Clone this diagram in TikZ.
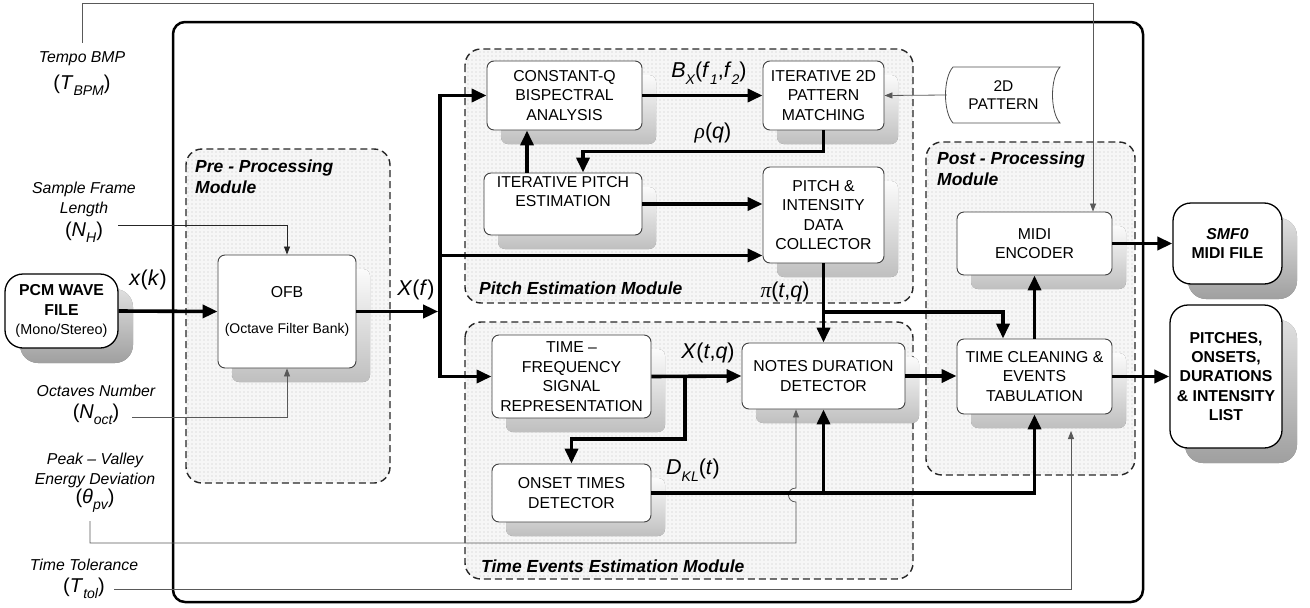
\documentclass[tikz,border=0pt]{standalone}
\usepackage{fontspec}
\setmainfont{Liberation Sans}
\newfontfamily\grk{Liberation Serif}
\usetikzlibrary{arrows.meta,calc,shadows,patterns}
\newcommand\sbs[1]{\raisebox{-0.3em}{\fontsize{14}{14}\selectfont\itshape #1}}
\pgfdeclarepatternformonly{mydots}{\pgfqpoint{-1pt}{-1pt}}{\pgfqpoint{1pt}{1pt}}{\pgfqpoint{4pt}{4pt}}{\pgfpathcircle{\pgfqpoint{0pt}{0pt}}{0.6pt}\pgfusepath{fill}}
\begin{document}
\begin{tikzpicture}[x=1pt,y=-1pt,
  box/.style={draw=black!75, line width=0.9pt, fill=white, rounded corners=7pt, align=center, inner sep=0pt,
    font=\fontsize{15.8}{19.5}\selectfont,
    drop shadow={shadow xshift=14pt, shadow yshift=-14pt, opacity=1, top color=gray!3, bottom color=gray!50, draw=none}},
  filebox/.style={draw=black, line width=1.3pt, fill=white, rounded corners=18pt, align=center, inner sep=0pt,
    font=\fontsize{15.8}{19.3}\selectfont\bfseries,
    drop shadow={shadow xshift=15pt, shadow yshift=-15pt, opacity=1, top color=gray!25, bottom color=gray!75, draw=none}},
  module/.style={draw=black!85, dash pattern=on 7pt off 4pt, line width=1.4pt, rounded corners=16pt,
    preaction={fill=gray!7}, pattern=mydots, pattern color=gray!45},
  modtitle/.style={font=\fontsize{17.5}{21}\selectfont\bfseries\itshape, align=left, inner sep=0pt, anchor=north west},
  lbl/.style={font=\fontsize{15.8}{19.5}\selectfont\itshape, align=center, inner sep=0pt},
  sym/.style={font=\fontsize{20}{22}\selectfont, inner sep=0pt},
  eq/.style={font=\fontsize{21.5}{24}\selectfont, inner sep=0pt},
  big/.style={line width=3.6pt, -{Triangle[length=15pt,width=13pt]}},
  bigboth/.style={line width=3.6pt, {Triangle[length=15pt,width=13pt]}-{Triangle[length=15pt,width=13pt]}},
  thinarr/.style={draw=black!65, line width=0.8pt, -{Triangle[length=8pt,width=6pt]}},
]
\useasboundingbox (0,0) rectangle (1310,608);
% outer frame
\draw[line width=2.5pt, rounded corners=12pt] (173,22) rectangle (1143,602);
% modules
\draw[module] (186,149) rectangle (390,483);
\draw[module] (465,49) rectangle (913,303);
\draw[module] (465,322) rectangle (913,579);
\draw[module] (926,142) rectangle (1135,475);
\node[modtitle] (tpre) at (195,159.5) {Pre - Processing\\Module};
\node[modtitle] (tpitch) at (479,282) {Pitch Estimation Module};
\node[modtitle] (ttime) at (481,560) {Time Events Estimation Module};
\node[modtitle] (tpost) at (937,152) {Post - Processing\\Module};

% boxes
\node[filebox, minimum width=113pt, minimum height=74pt] (pcm) at (61.5,311) {PCM WAVE\\FILE\\{\fontsize{14.4}{17}\selectfont\mdseries (Mono/Stereo)}};
\node[box, minimum width=138pt, minimum height=113pt] (ofb) at (287,311.5) {OFB\\[17pt]{\fontsize{14}{17}\selectfont (Octave Filter Bank)}};
\node[box, minimum width=155pt, minimum height=69pt] (cq) at (564.5,95.5) {CONSTANT-Q\\BISPECTRAL\\ANALYSIS};
\node[box, minimum width=121pt, minimum height=69pt] (pm) at (823.5,95.5) {ITERATIVE 2D\\PATTERN\\MATCHING};
\node[box, minimum width=158pt, minimum height=62pt] (ip) at (563,204) {ITERATIVE PITCH\\ESTIMATION\\\strut};
\node[box, minimum width=121pt, minimum height=96pt] (pc) at (823.5,215) {PITCH \&\\INTENSITY\\DATA\\COLLECTOR};
\node[box, minimum width=159pt, minimum height=83pt] (tf) at (571.5,376.5) {TIME –\\FREQUENCY\\SIGNAL\\REPRESENTATION};
\node[box, minimum width=163pt, minimum height=66pt] (nd) at (823.5,376) {NOTES DURATION\\DETECTOR};
\node[box, minimum width=159pt, minimum height=58pt] (ot) at (571.5,493) {ONSET TIMES\\DETECTOR};
\node[box, minimum width=155pt, minimum height=63pt] (me) at (1034.5,243.5) {MIDI\\ENCODER};
\node[box, minimum width=155pt, minimum height=75pt] (tc) at (1034.5,376.5) {TIME CLEANING \&\\EVENTS\\TABULATION};
\node[filebox, minimum width=109pt, minimum height=81pt] (smf) at (1227.5,243.5) {\textit{SMF0}\\MIDI FILE};
\node[filebox, minimum width=112pt, minimum height=143pt] (pil) at (1226,376.5) {PITCHES,\\ONSETS,\\DURATIONS\\\& INTENSITY\\LIST};

% 2D pattern (stored data shape)
\node[inner sep=0pt, minimum width=113pt, minimum height=56pt, align=center, font=\fontsize{15.5}{18}\selectfont] (pat2d) at (1003.5,95) {2D\\PATTERN};
\draw[black!70, line width=0.8pt] (953,67) -- (1060,67) .. controls (1050,78) and (1050,112) .. (1060,123) -- (953,123) .. controls (943,112) and (943,78) .. (953,67) -- cycle;

% left parameter labels
\node[lbl] (tempo) at (82,59) {Tempo BMP};
\node[sym] (tbpm) at (82,85) {(\textit{T}\sbs{BPM})};
\node[lbl] (sfl) at (84,199.5) {Sample Frame\\Length};
\node[sym] (nh) at (84,232) {(\textit{N}\sbs{H})};
\node[lbl] (octn) at (96,391) {Octaves Number};
\node[sym] (noct) at (96,414) {(\textit{N}\sbs{oct})};
\node[lbl] (pv) at (95,470.5) {Peak – Valley\\Energy Deviation};
\node[sym] (thpv) at (95,501) {(\textit{θ}\sbs{pv})};
\node[lbl] (ttl) at (84,565) {Time Tolerance};
\node[sym] (ttol) at (84,588) {(\textit{T}\sbs{tol})};

% coordinates
\coordinate (mein) at ($(me.north)+(58.5,0)$);
\coordinate (nhs) at (118,225);
\coordinate (octs) at (132,417);
\coordinate (pvs) at (90,521);
\coordinate (ndin) at ($(nd.south)+(-27.5,0)$);
\coordinate (tols) at (114,589);
\coordinate (tcin2) at (1071,431);
\coordinate (bus) at (440,311.5);
\coordinate (pcin) at ($(pc.south west)+(0,-8)$);
\coordinate (ipin) at ($(ip.north)+(20,0)$);
\coordinate (ipout) at ($(ip.north)+(-36,0)$);
\coordinate (pj) at (pc.south |- 0,312);
\coordinate (tcin) at ($(tc.north)+(-31.5,0)$);
\coordinate (xj) at (685,376.5);

% thin lines
\draw[thinarr] ($(tempo.north)+(0,-9)$) -- ($(tempo.north |- 0,3)$) -| (mein);
\draw[thinarr, draw=black!85] (nhs) -| (ofb.north);
\draw[thinarr] (octs) -| (ofb.south);
\draw[thinarr] (pvs) |- (796,543) -- (796,502) .. controls (786,502) and (786,488) .. (796,488) -- (ndin);
\draw[thinarr] (tols) -| (tcin2);
\draw[thinarr] (pat2d.west) -- (pm.east);

% thick arrows
\draw[big] (pcm.east) -- (ofb.west);
\draw[big] (ofb.east) -- ($(bus)+(-1.8,0)$);
\draw[bigboth] (cq.west) -- (bus |- cq.west) -- (bus |- tf.west) -- (tf.west);
\draw[big] (bus |- pcin) -- (pcin);
\draw[big] (cq.east) -- (pm.west);
\draw[big] (pm.south) -- ++(0,21) -| (ipin);
\draw[big] (ipout) -- (ipout |- cq.south);
\draw[big] (ip.east) -- (ip.east -| pc.west);
\draw[big] (pc.south) -- (nd.north);
\draw[big] (pj) -| (tcin);
\draw[big] (tf.east) -- (nd.west);
\draw[big] (xj) -- (685,439) -| (ot.north);
\draw[big] (ot.east) -| (tc.south);
\draw[big] (nd.south |- ot.east) -- (nd.south);
\draw[big] (nd.east) -- (nd.east -| tc.west);
\draw[big] (tc.north) -- (me.south);
\draw[big] (me.east) -- (smf.west);
\draw[big] (tc.east) -- (pil.west);

% signal labels
\node[eq] (lxk) at (148,280) {\textit{x}(\textit{k})};
\node[eq] (lxf) at (416,290) {\textit{X}(\textit{f})};
\node[eq] (lbx) at (709,73) {\textit{B}\sbs{X}(\textit{f}\sbs{1},\textit{f}\sbs{2})};
\node[eq] (lrho) at (713,133) {{\grk\itshape ρ}(\textit{q})};
\node[eq] (lpi) at (785,292) {{\grk\itshape π}(\textit{t},\textit{q})};
\node[eq] (lxtq) at (708,353) {\textit{X}(\textit{t},\textit{q})};
\node[eq] (ldkl) at (693,470) {\textit{D}\sbs{KL}(\textit{t})};
\end{tikzpicture}
\end{document}
